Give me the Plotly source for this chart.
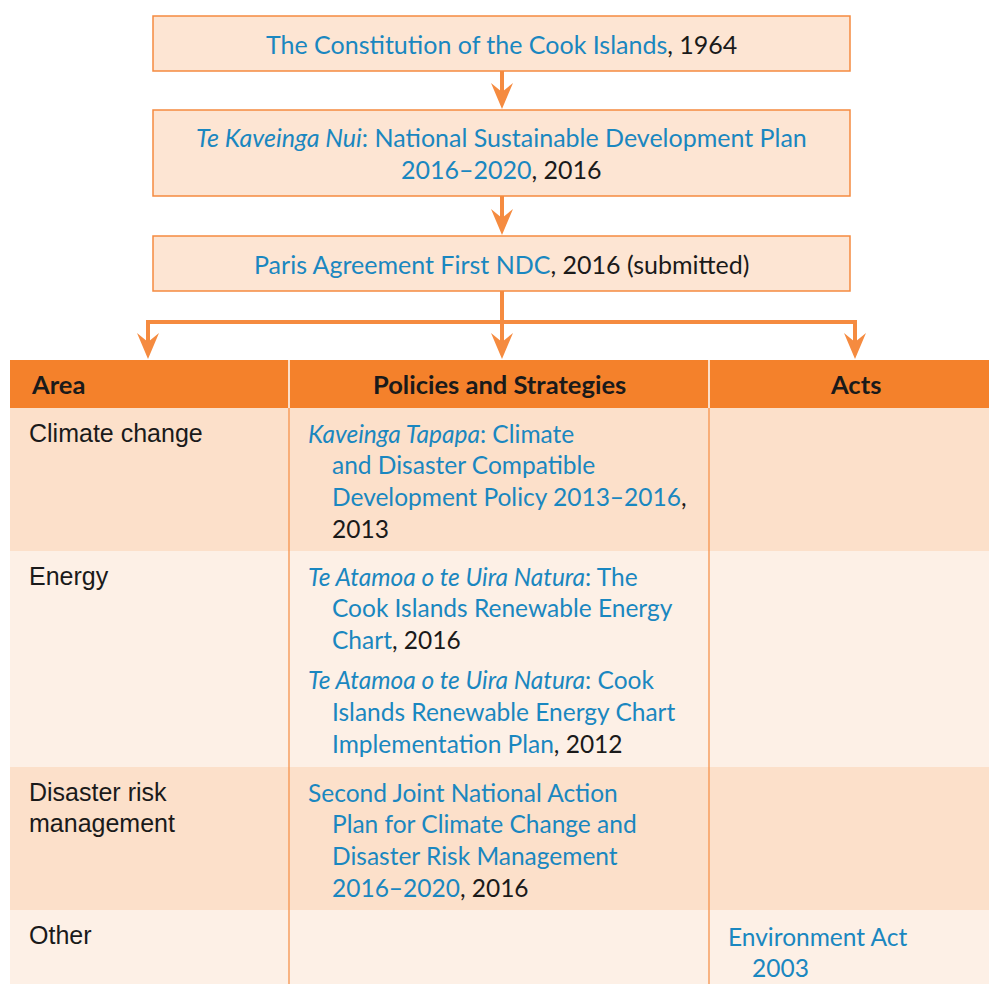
import plotly.graph_objects as go

W, H = 989, 984
BLUE = "#1A87C0"
BLACK = "#1a1a1a"
ORANGE = "#F58B40"
HEAD = "#F4812B"
DARK = "#FCE0CA"
LIGHT = "#FDF0E6"
BOXFILL = "#FDE5D3"
FONT = "Lato"
FONT2 = "Liberation Sans"


def b(t):
    return f"<span style='color:{BLUE}'>{t}</span>"


# ---- content ----
top_boxes = [
    [b("The Constitution of the Cook Islands") + ", 1964"],
    [b("<i>Te Kaveinga Nui</i>: National Sustainable Development Plan"),
     b("2016–2020") + ", 2016"],
    [b("Paris Agreement First NDC") + ", 2016 (submitted)"],
]
headers = ["Area", "Policies and Strategies", "Acts"]
areas = [["Climate change"], ["Energy"], ["Disaster risk", "management"], ["Other"]]
policies = [
    [[b("<i>Kaveinga Tapapa</i>: Climate"), b("and Disaster Compatible"),
      b("Development Policy 2013–2016") + ",", "2013"]],
    [[b("<i>Te Atamoa o te Uira Natura</i>: The"), b("Cook Islands Renewable Energy"),
      b("Chart") + ", 2016"],
     [b("<i>Te Atamoa o te Uira Natura</i>: Cook"), b("Islands Renewable Energy Chart"),
      b("Implementation Plan") + ", 2012"]],
    [[b("Second Joint National Action"), b("Plan for Climate Change and"),
      b("Disaster Risk Management"), b("2016–2020") + ", 2016"]],
    [],
]
acts = [[], [], [], [[b("Environment Act"), b("2003")]]]

# ---- layout geometry ----
box_x0, box_x1 = 153, 850
box_y = [(16, 71), (110, 196), (236, 291)]
cx = 502
tbl_x0, tbl_x1 = 10, 989
col_x = [10, 289, 709, 989]
head_y = (360, 408)
row_y = [(408, 551), (551, 767), (767, 910), (910, 984)]
row_fill = [DARK, LIGHT, DARK, LIGHT]
branch_xs = (148, cx, 855)
LS = 31.8
FS = 24.5

shapes = []
ann = []


def text(x, y, t, size=FS, anchor="left", family=FONT, color=BLACK):
    ann.append(dict(x=x, y=y, xref="x", yref="y", text=t, showarrow=False,
                    xanchor=anchor, yanchor="middle",
                    font=dict(size=size, family=family, color=color)))


def arrowhead(x, ytip):
    shapes.append(dict(type="path", xref="x", yref="y",
                       path=f"M{x},{ytip} L{x-11},{ytip-26} L{x},{ytip-17} L{x+11},{ytip-26} Z",
                       fillcolor=ORANGE, line=dict(width=0)))


def vline(x, y0, y1, w=4):
    shapes.append(dict(type="line", xref="x", yref="y", x0=x, x1=x, y0=y0, y1=y1,
                       line=dict(color=ORANGE, width=w)))


# top boxes
for (y0, y1), lines in zip(box_y, top_boxes):
    shapes.append(dict(type="rect", xref="x", yref="y", x0=box_x0, x1=box_x1, y0=y0, y1=y1,
                       fillcolor=BOXFILL, line=dict(color=ORANGE, width=1.5)))
    yc = (y0 + y1) / 2 - (len(lines) - 1) * LS / 2
    for i, ln in enumerate(lines):
        text((box_x0 + box_x1) / 2, yc + i * LS, ln, size=25, anchor="center")

# arrows between boxes
for (a0, a1), (b0, b1) in zip(box_y[:-1], box_y[1:]):
    vline(cx, a1, b0 - 10)
    arrowhead(cx, b0 - 1)

# branch
branch_y = 322
vline(cx, box_y[-1][1], head_y[0] - 10)
shapes.append(dict(type="line", xref="x", yref="y", x0=branch_xs[0], x1=branch_xs[-1],
                   y0=branch_y, y1=branch_y, line=dict(color=ORANGE, width=4)))
for x in (branch_xs[0], branch_xs[-1]):
    vline(x, branch_y - 2, head_y[0] - 10)
for x in branch_xs:
    arrowhead(x, head_y[0] - 1)

# table
shapes.append(dict(type="rect", xref="x", yref="y", x0=tbl_x0, x1=tbl_x1, y0=head_y[0], y1=head_y[1],
                   fillcolor=HEAD, line=dict(width=0)))
for (y0, y1), f in zip(row_y, row_fill):
    shapes.append(dict(type="rect", xref="x", yref="y", x0=tbl_x0, x1=tbl_x1, y0=y0, y1=y1,
                       fillcolor=f, line=dict(width=0)))
for x in col_x[1:3]:
    shapes.append(dict(type="line", xref="x", yref="y", x0=x, x1=x, y0=head_y[0], y1=head_y[1],
                       line=dict(color="white", width=1.5)))
    shapes.append(dict(type="line", xref="x", yref="y", x0=x, x1=x, y0=head_y[1], y1=H,
                       line=dict(color=ORANGE, width=1.2)))

hy = (head_y[0] + head_y[1]) / 2
text(29, hy, f"<b>{headers[0]}</b>", size=25.5)
text((col_x[1] + col_x[2]) / 2, hy, f"<b>{headers[1]}</b>", size=25.5, anchor="center")
text(branch_xs[-1], hy, f"<b>{headers[2]}</b>", size=25.5, anchor="center")

first_off = 25
for r, (y0, y1) in enumerate(row_y):
    for i, ln in enumerate(areas[r]):
        text(27, y0 + first_off + i * 31, ln, size=25, family=FONT2)
    y = y0 + first_off
    for item in policies[r]:
        for i, ln in enumerate(item):
            text(306 if i == 0 else 330, y, ln)
            y += LS
        y += 8
    y = y0 + first_off + 1
    for item in acts[r]:
        for i, ln in enumerate(item):
            text(726 if i == 0 else 750, y, ln)
            y += LS

fig = go.Figure()
fig.update_layout(
    width=W, height=H, margin=dict(l=0, r=0, t=0, b=0),
    paper_bgcolor="white", plot_bgcolor="white",
    xaxis=dict(range=[0, W], visible=False, fixedrange=True),
    yaxis=dict(range=[H, 0], visible=False, fixedrange=True),
    shapes=shapes, annotations=ann, showlegend=False,
)
fig.write_html("out.html", config={"displayModeBar": False},
               post_script="document.body.style.margin='0';document.body.style.overflow='hidden';")
